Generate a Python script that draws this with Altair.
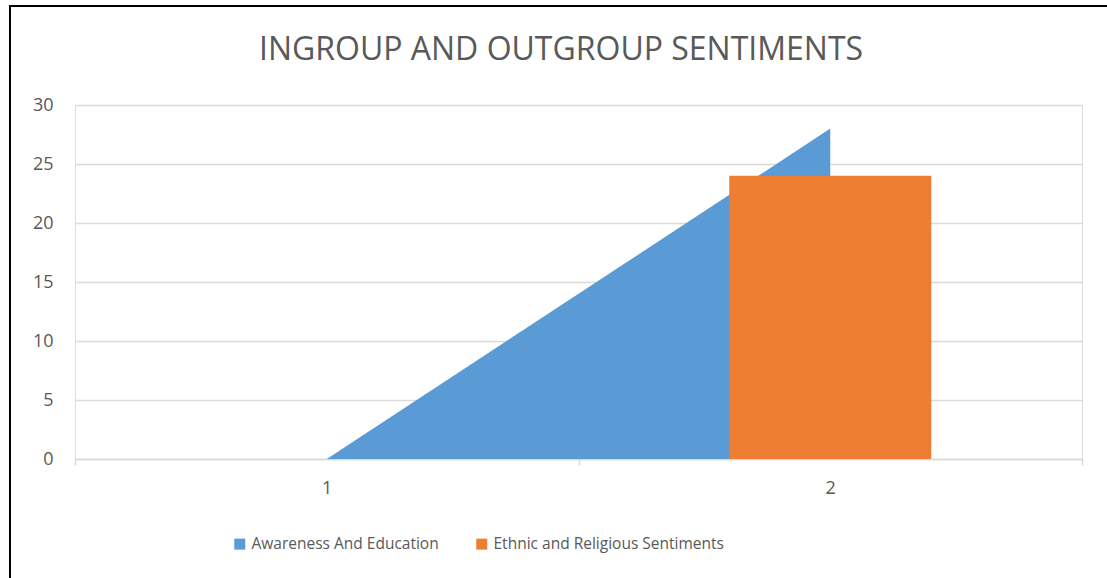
import altair as alt
import pandas as pd

# Chart values
categories = [1, 2]
awareness = [0, 28]
ethnic = [0, 24]
series_names = ["Awareness And Education", "Ethnic and Religious Sentiments"]
series_colors = ["#5b9bd5", "#ed7d31"]
y_ticks = [0, 5, 10, 15, 20, 25, 30]
chart_title = "INGROUP AND OUTGROUP SENTIMENTS"

FONT = "Open Sans"
GRAY = "#595959"
LIGHT = "#d9d9d9"

area_df = pd.DataFrame({"cat": categories, "value": awareness, "series": series_names[0]})
bar_df = pd.DataFrame({"cat": categories, "value": ethnic, "series": series_names[1]})

x_scale = alt.Scale(domain=[0.5, 2.5], nice=False, zero=False, padding=0)
y_scale = alt.Scale(domain=[0, 30], nice=False)
color_scale = alt.Scale(domain=series_names, range=series_colors)

# Category labels sit at the integers, tick marks sit between categories
x_axis = alt.Axis(
    values=[0.5, 1, 1.5, 2, 2.5],
    labelExpr="datum.value % 1 === 0 ? format(datum.value, 'd') : ''",
    title=None,
    grid=False,
    domainColor=LIGHT,
    domainWidth=1.5,
    tickColor={"condition": {"test": "datum.value % 1 === 0", "value": "transparent"}, "value": LIGHT},
    tickWidth=1.5,
    tickSize=6,
    labelPadding=14,
    labelFont=FONT,
    labelFontSize=18,
    labelColor=GRAY,
)
y_axis = alt.Axis(
    values=y_ticks,
    title=None,
    domain=False,
    ticks=False,
    gridColor=LIGHT,
    gridWidth=1.5,
    labelPadding=22,
    labelFont=FONT,
    labelFontSize=18,
    labelColor=GRAY,
)

legend = alt.Legend(
    title=None,
    orient="none",
    legendX=157,
    legendY=431,
    direction="horizontal",
    symbolType="square",
    symbolSize=121,
    symbolStrokeWidth=0,
    labelFont=FONT,
    labelFontSize=15.5,
    labelColor=GRAY,
    labelOffset=4,
    labelLimit=500,
    columnPadding=35,
)

area = alt.Chart(area_df).mark_area(opacity=1).encode(
    x=alt.X("cat:Q", scale=x_scale, axis=x_axis),
    y=alt.Y("value:Q", scale=y_scale, axis=y_axis),
    color=alt.Color("series:N", scale=color_scale, legend=legend),
)

bars = alt.Chart(bar_df).mark_bar(size=202, opacity=1).encode(
    x=alt.X("cat:Q", scale=x_scale),
    y=alt.Y("value:Q", scale=y_scale),
    color=alt.Color("series:N", scale=color_scale, legend=legend),
)

# Title drawn as text above the plot
title = alt.Chart().mark_text(
    text=chart_title,
    font=FONT,
    fontSize=32,
    color=GRAY,
    align="center",
    baseline="middle",
).encode(x=alt.value(486), y=alt.value(-55))

# Outer frame lines (left and top edges)
frame_left = alt.Chart().mark_rule(color="black", strokeWidth=2).encode(
    x=alt.value(-65), y=alt.value(-99), y2=alt.value(480)
)
frame_top = alt.Chart().mark_rule(color="black", strokeWidth=2).encode(
    x=alt.value(-66), x2=alt.value(1040), y=alt.value(-99)
)

chart = (
    alt.layer(area, bars, title, frame_left, frame_top)
    .properties(
        width=1007,
        height=354,
        autosize=alt.AutoSizeParams(type="none"),
        padding={"left": 75, "top": 105, "right": 25, "bottom": 119},
    )
    .configure_view(stroke=None)
    .configure(background="white")
)

chart.save("out.html", embed_options={"renderer": "svg", "actions": False})
